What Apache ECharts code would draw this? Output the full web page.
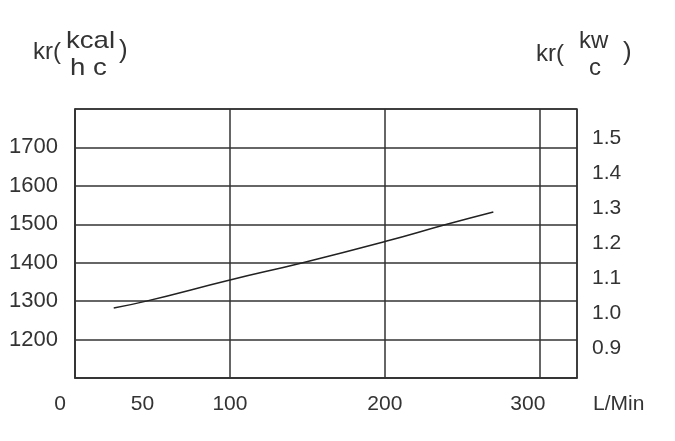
<!DOCTYPE html>
<html>
<head>
<meta charset="utf-8">
<script src="https://cdn.jsdelivr.net/npm/echarts@6/dist/echarts.min.js"></script>
<style>
html,body{margin:0;padding:0;background:#fff;}
#c{width:675px;height:441px;}
</style>
</head>
<body>
<div id="c"></div>
<script>
// Flow (L/Min) vs kr (kcal/h°C)
const flowValues = [25, 46, 100, 147, 200, 240, 270];
const krValues = [1282, 1300, 1355, 1400, 1455, 1500, 1532];
const xTickLabels = [0, 50, 100, 200, 300];
const leftTickLabels = [1200, 1300, 1400, 1500, 1600, 1700];
const rightTickLabels = [0.9, 1.0, 1.1, 1.2, 1.3, 1.4, 1.5];

const FONT = 'Liberation Sans, Arial, sans-serif';
const INK = '#333';
// label shift styles (text drawn slightly left of its tick, as in the original)
const xLabelStyle = {0: 'a', 50: 'b', 300: 'c'};
const chart = echarts.init(document.getElementById('c'), null, {renderer: 'canvas'});
chart.setOption({
  animation: false,
  backgroundColor: '#fff',
  grid: {left: 75, right: 98, top: 109, bottom: 63, show: true, borderColor: INK, borderWidth: 1.5},
  xAxis: {
    type: 'value', min: 0, max: 324, interval: 100,
    name: 'L/Min', nameLocation: 'end', nameGap: 16,
    nameTextStyle: {fontFamily: FONT, fontSize: 21, color: INK, verticalAlign: 'top', padding: [16, 0, 0, 0]},
    axisLine: {show: true, lineStyle: {color: INK, width: 1.5}},
    axisTick: {show: false},
    splitLine: {show: true, lineStyle: {color: INK, width: 1.5}},
    axisLabel: {customValues: xTickLabels, fontFamily: FONT, fontSize: 21, color: INK, margin: 16,
      formatter: v => xLabelStyle[v] ? '{' + xLabelStyle[v] + '|' + v + '}' : String(v),
      rich: {
        a: {fontFamily: FONT, fontSize: 21, color: INK, padding: [0, 30, 0, 0]},
        b: {fontFamily: FONT, fontSize: 21, color: INK, padding: [0, 20, 0, 0]},
        c: {fontFamily: FONT, fontSize: 21, color: INK, padding: [0, 24, 0, 0]}
      }}
  },
  yAxis: [{
    type: 'value', min: 1100, max: 1800, interval: 100, position: 'left',
    axisLine: {show: true, lineStyle: {color: INK, width: 1.5}},
    axisTick: {show: false},
    splitLine: {show: true, lineStyle: {color: INK, width: 1.5}},
    axisLabel: {customValues: leftTickLabels, fontFamily: FONT, fontSize: 22, color: INK, margin: 17,
      padding: [0, 0, 6, 0], formatter: v => String(v)}
  }, {
    type: 'value', min: 0.815, max: 1.585, position: 'right',
    axisLine: {show: false}, axisTick: {show: false}, splitLine: {show: false},
    axisLabel: {customValues: rightTickLabels, fontFamily: FONT, fontSize: 21, color: INK, margin: 15,
      formatter: v => v.toFixed(1)}
  }],
  graphic: [
    {type: 'text', left: 33, top: 40, style: {text: 'kr(', font: '24px ' + FONT, fill: INK}},
    {type: 'text', left: 66, top: 29, scaleX: 1.15, style: {text: 'kcal', font: '24px ' + FONT, fill: INK}},
    {type: 'text', left: 70, top: 56, scaleX: 1.15, style: {text: 'h c', font: '24px ' + FONT, fill: INK}},
    {type: 'text', left: 119, top: 38, style: {text: ')', font: '26px ' + FONT, fill: INK}},
    {type: 'text', left: 536, top: 42, style: {text: 'kr(', font: '24px ' + FONT, fill: INK}},
    {type: 'text', left: 579, top: 29, style: {text: 'kw', font: '24px ' + FONT, fill: INK}},
    {type: 'text', left: 589, top: 56, style: {text: 'c', font: '24px ' + FONT, fill: INK}},
    {type: 'text', left: 623, top: 40, style: {text: ')', font: '26px ' + FONT, fill: INK}}
  ],
  series: [{
    type: 'line', yAxisIndex: 0, showSymbol: false, smooth: true,
    data: flowValues.map((x, i) => [x, krValues[i]]),
    lineStyle: {color: '#222', width: 1.5}
  }]
});
</script>
</body>
</html>
